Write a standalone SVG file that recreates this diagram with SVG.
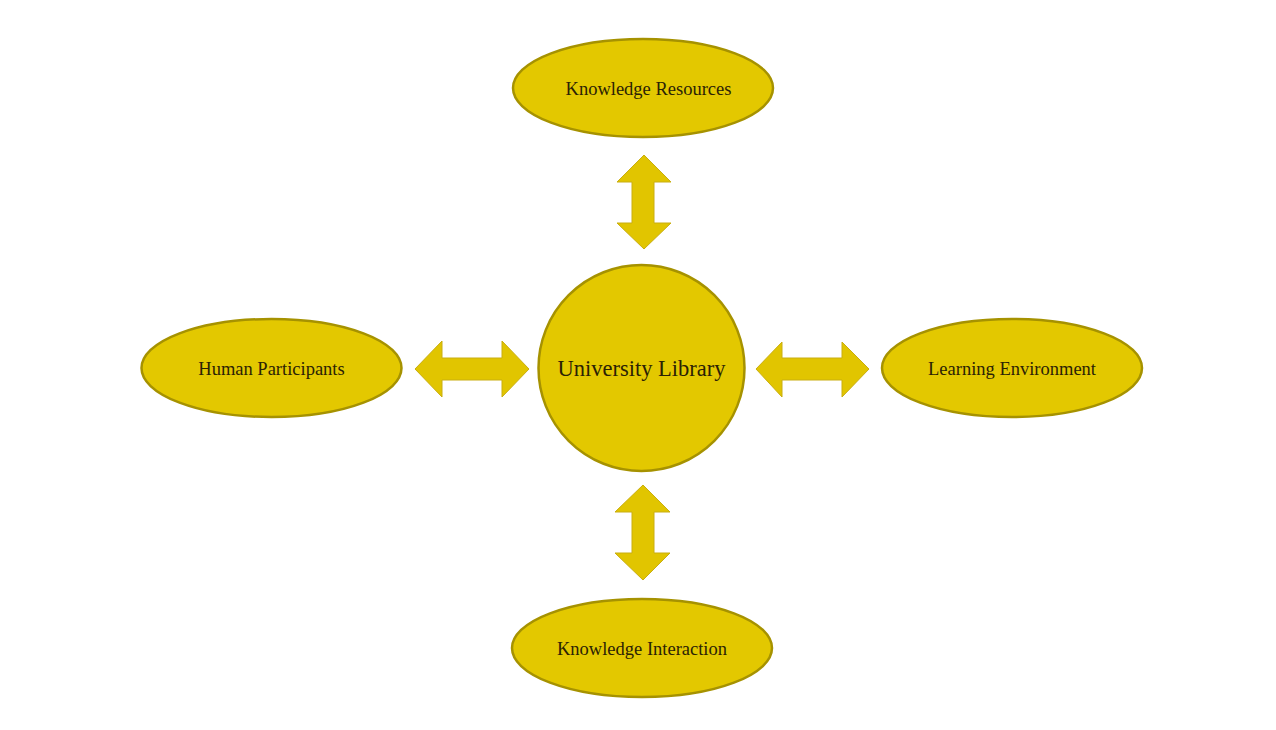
<svg xmlns="http://www.w3.org/2000/svg" width="1276" height="730" viewBox="0 0 1276 730">
<style>
.node{fill:#E3C800;stroke:#A69200;stroke-width:2.5}
.arr{fill:#E1C500;stroke:#C9AE10;stroke-width:1}
.lbl{font-family:"Liberation Serif","Times New Roman",serif;font-size:18.5px;fill:#2B2205;text-anchor:middle}
.big{font-size:22.5px}
</style>
<rect width="1276" height="730" fill="#FFFFFF"/>
<g id="connectors">
<polygon class="arr" points="644,155 671,182 654,182 654,223 671,223 644,249 617,223 632,223 632,182 617,182"/>
<polygon class="arr" points="643,485 670,512 654,512 654,553 670,553 643,580 615,553 632,553 632,512 615,512"/>
<polygon class="arr" points="415,369 442,341 442,358 502,358 502,341 529,369 502,397 502,380 442,380 442,397"/>
<polygon class="arr" points="756,369 782,342 782,358 842,358 842,342 869,369 842,397 842,380 782,380 782,397"/>
</g>
<g id="university-library">
<circle class="node" cx="641.5" cy="368" r="103"/>
<text class="lbl big" x="641.5" y="376">University Library</text>
</g>
<g id="knowledge-resources">
<ellipse class="node" cx="643" cy="88" rx="130" ry="49"/>
<text class="lbl" x="648.5" y="95">Knowledge Resources</text>
</g>
<g id="human-participants">
<ellipse class="node" cx="271.5" cy="368" rx="130" ry="49"/>
<text class="lbl" x="271.5" y="375">Human Participants</text>
</g>
<g id="learning-environment">
<ellipse class="node" cx="1012" cy="368" rx="130" ry="49"/>
<text class="lbl" x="1012" y="375">Learning Environment</text>
</g>
<g id="knowledge-interaction">
<ellipse class="node" cx="642" cy="648" rx="130" ry="49"/>
<text class="lbl" x="642" y="655">Knowledge Interaction</text>
</g>
</svg>
